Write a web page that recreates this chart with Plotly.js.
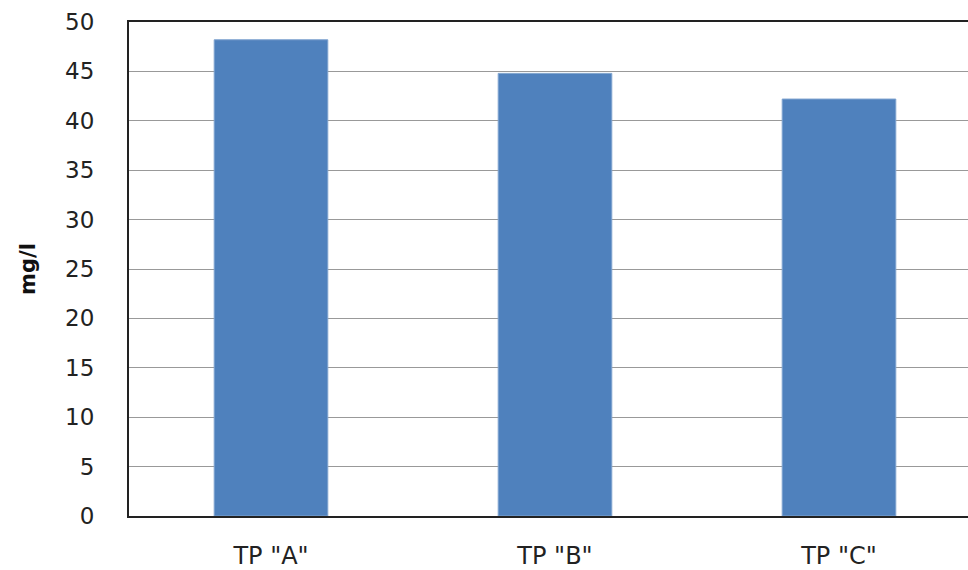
<!DOCTYPE html>
<html>
<head>
<meta charset="utf-8">
<script src="https://cdn.plot.ly/plotly-3.0.1.min.js"></script>
<style>
html,body{margin:0;padding:0;overflow:hidden;width:968px;height:570px;background:#fff;}
#chart{width:990px;height:570px;}
</style>
</head>
<body>
<div id="chart"></div>
<script>
var categories = ['TP "A"', 'TP "B"', 'TP "C"'];
var values = [48.2, 44.8, 42.2];
var yTicks = [0, 5, 10, 15, 20, 25, 30, 35, 40, 45, 50];

var trace = {
  type: 'bar',
  x: categories,
  y: values,
  marker: {color: '#4F81BD', line: {color: '#7FA3CF', width: 1}},
  width: 0.4,
  hoverinfo: 'x+y'
};

var layout = {
  width: 990,
  height: 570,
  margin: {l: 129, r: 9, t: 22, b: 54},
  paper_bgcolor: '#fff',
  plot_bgcolor: '#fff',
  showlegend: false,
  font: {family: 'DejaVu Sans, Verdana, sans-serif', color: '#222', size: 22},
  xaxis: {
    type: 'category',
    showline: true, linecolor: '#222', linewidth: 2, mirror: true,
    showgrid: false, ticks: '', ticklabelstandoff: 17,
    tickfont: {size: 24, color: '#222'}
  },
  yaxis: {
    range: [0, 50],
    tickvals: yTicks,
    showline: true, linecolor: '#222', linewidth: 2,
    showgrid: true, gridcolor: '#999', gridwidth: 1,
    zeroline: false, ticks: '', ticklabelstandoff: 28,
    tickfont: {size: 23, color: '#222'},
    title: {text: '<b>mg/l</b>', font: {size: 21, color: '#111'}, standoff: 24}
  }
};

Plotly.newPlot('chart', [trace], layout, {displayModeBar: false, staticPlot: true});
</script>
</body>
</html>
